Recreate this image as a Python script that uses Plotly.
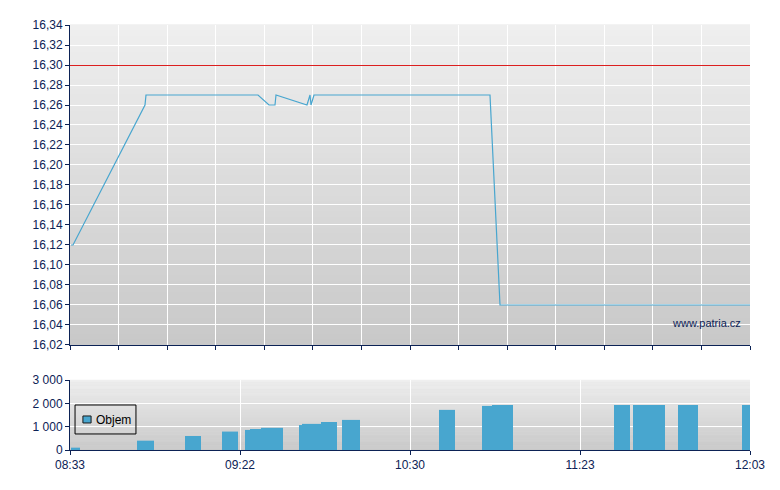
import plotly.graph_objects as go

# ---- data ----
time_labels = ["08:33", "09:22", "10:30", "11:23", "12:03"]
label_pos = [0, 170, 340, 510, 680]          # trade-index positions of labelled times

price_x = [1, 3, 75, 76, 188, 199, 205, 206, 237, 240, 241, 244, 420, 430, 680]
price_y = [16.12, 16.12, 16.26, 16.27, 16.27, 16.26, 16.26, 16.27, 16.26, 16.27,
           16.26, 16.27, 16.27, 16.06, 16.06]

ref_price = 16.30

vol_start = [1, 67, 115, 152, 175, 180, 191, 229, 232, 251, 272, 369, 412, 422, 544, 563, 608, 672]
vol_end = [10, 84, 131, 168, 180, 191, 213, 232, 251, 267, 290, 385, 422, 443, 560, 595, 628, 680]
vol_value = [100, 400, 600, 790, 860, 900, 950, 1070, 1120, 1200, 1290, 1720, 1890,
             1930, 1930, 1930, 1930, 1930]

# ---- style ----
NAVY = "#0c2255"
BLUE = "#48a6cf"
RED = "#dc1f1f"
FONT = "Liberation Sans, Arial, sans-serif"
Y_RANGE = [16.02, 16.34]
TOP_PLOT_PX = 320
half_px = 0.5 * (Y_RANGE[1] - Y_RANGE[0]) / TOP_PLOT_PX   # pixel snap for crisp line

bar_center = [(a + b) / 2 for a, b in zip(vol_start, vol_end)]
bar_width = [b - a for a, b in zip(vol_start, vol_end)]

fig = go.Figure()
fig.add_trace(go.Scatter(x=price_x, y=price_y, mode="lines",
                         line=dict(color=BLUE, width=1.2), xaxis="x", yaxis="y",
                         showlegend=False, hoverinfo="skip"))
fig.add_trace(go.Bar(x=bar_center, y=vol_value, width=bar_width,
                     marker=dict(color=BLUE, line=dict(width=0)),
                     xaxis="x2", yaxis="y2", name="Objem", showlegend=False))

shapes = []
# gradient backgrounds
N = 60
for ref in ("", "2"):
    for i in range(N):
        t = (i + 0.5) / N
        v = int(round(200 + (239 - 200) * t))
        shapes.append(dict(type="rect", xref=f"x{ref} domain", yref=f"y{ref} domain",
                           x0=0, x1=1, y0=i / N, y1=(i + 1) / N + 0.002,
                           fillcolor=f"rgb({v},{v},{v})", line=dict(width=0),
                           layer="below"))
# reference price line
shapes.append(dict(type="line", xref="x domain", yref="y", x0=0, x1=1,
                   y0=ref_price - half_px, y1=ref_price - half_px,
                   line=dict(color=RED, width=1), layer="above"))
# legend box
shapes.append(dict(type="rect", xref="x2 domain", yref="y2 domain",
                   x0=0.0074, x1=0.097, y0=0.229, y1=0.643,
                   line=dict(color="#000000", width=1), fillcolor="rgba(0,0,0,0)",
                   layer="above"))
shapes.append(dict(type="rect", xref="x2 domain", yref="y2 domain",
                   x0=0.019, x1=0.031, y0=0.386, y1=0.486,
                   line=dict(color="#1a1a1a", width=1), fillcolor=BLUE,
                   layer="above"))

axis_common = dict(showline=True, linecolor=NAVY, linewidth=1, ticks="outside",
                   ticklen=4, tickcolor=NAVY, tickwidth=1, zeroline=False,
                   gridcolor="#ffffff", gridwidth=1, showgrid=True, automargin=False,
                   tickfont=dict(family=FONT, size=12, color=NAVY))

fig.update_layout(
    width=760, height=466,
    margin=dict(l=62, r=18, t=17, b=24),
    paper_bgcolor="#ffffff", plot_bgcolor="#dcdcdc",
    separators=", ",
    showlegend=False,
    font=dict(family=FONT, size=12, color=NAVY),
    xaxis=dict(domain=[0, 1], anchor="y", range=[0, 680], tickmode="array",
               tickvals=[680 * i / 14 for i in range(15)], showticklabels=False,
               **axis_common),
    yaxis=dict(domain=[0.2471, 1], anchor="x", range=Y_RANGE, tick0=16.02,
               dtick=0.02, tickformat=".2f", **axis_common),
    xaxis2=dict(domain=[0, 1], anchor="y2", range=[0, 680], tickmode="array",
                tickvals=label_pos, ticktext=time_labels, **axis_common),
    yaxis2=dict(domain=[0, 0.1647], anchor="x2", range=[0, 3000], tick0=0,
                dtick=1000, tickformat=",d", **axis_common),
    shapes=shapes,
    annotations=[
        dict(text="www.patria.cz", xref="x domain", yref="y domain", x=0.9897, y=0.069,
             xanchor="right", yanchor="middle", showarrow=False,
             font=dict(family=FONT, size=11, color=NAVY)),
        dict(text="Objem", xref="x2 domain", yref="y2 domain", x=0.036, y=0.43,
             xanchor="left", yanchor="middle", showarrow=False,
             font=dict(family=FONT, size=12, color="#000000")),
    ],
)

fig.write_html("out.html")
